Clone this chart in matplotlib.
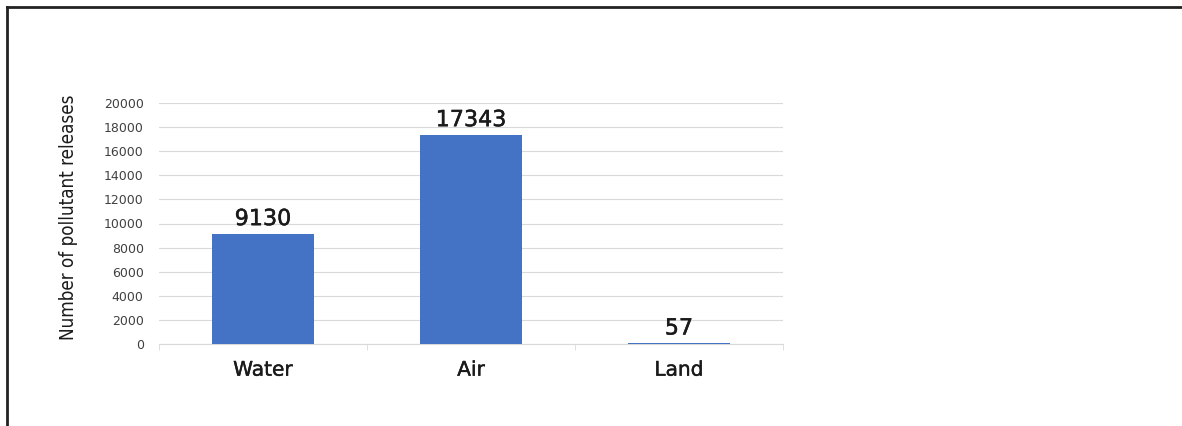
import matplotlib
matplotlib.use("Agg")
import matplotlib.pyplot as plt
from matplotlib.lines import Line2D
import matplotlib.patheffects as pe

categories = ["Water", "Air", "Land"]
values = [9130, 17343, 57]
yticks = [0, 2000, 4000, 6000, 8000, 10000, 12000, 14000, 16000, 18000, 20000]

fig = plt.figure(figsize=(11.82, 4.26), dpi=100)
ax = fig.add_axes([159/1182, 1-344/426, (783-159)/1182, (344-103)/426])

x = list(range(len(categories)))
ax.bar(x, values, width=0.49, color="#4472C4", zorder=3)
ax.set_xlim(-0.5, len(categories) - 0.5)
ax.set_ylim(0, 20000)
ax.set_yticks(yticks)
ax.set_yticklabels([str(v) for v in yticks], fontsize=9, color="#404040", family="DejaVu Sans")
ax.tick_params(axis="y", length=0, pad=11)
ax.grid(axis="y", color="#d9d9d9", lw=0.8, zorder=0)
ax.set_xticks(x)
ax.set_xticklabels(categories, fontsize=14.5, family="DejaVu Sans", color="#1a1a1a")
for t in ax.get_xticklabels():
    t.set_path_effects([pe.withStroke(linewidth=0.3, foreground="#1a1a1a")])
ax.tick_params(axis="x", length=0, pad=12)
ax.set_xticks([-0.5, 0.5, 1.5, 2.5], minor=True)
ax.tick_params(axis="x", which="minor", length=4, color="#d9d9d9", direction="out")
for s in ["top", "right", "left"]:
    ax.spines[s].set_visible(False)
ax.spines["bottom"].set_color("#d9d9d9")
ax.spines["bottom"].set_linewidth(0.8)

for xi, v in zip(x, values):
    ax.annotate(str(v), (xi, v), xytext=(0, 3.5), textcoords="offset points",
                ha="center", va="bottom", fontsize=16, family="DejaVu Sans", color="#1a1a1a",
                path_effects=[pe.withStroke(linewidth=0.35, foreground="#1a1a1a")])

ax.set_ylabel("Number of pollutant releases", fontsize=13.5, family="DejaVu Sans",
              fontstretch="condensed", color="#1a1a1a")
ax.yaxis.set_label_coords((78-159)/624, (344-217.5)/241)

fig.add_artist(Line2D([6.5/1182, 1.0], [1-6.5/426, 1-6.5/426], color="#222222", lw=2, transform=fig.transFigure))
fig.add_artist(Line2D([6.5/1182, 6.5/1182], [0, 1-6.5/426], color="#222222", lw=2, transform=fig.transFigure))

fig.savefig("out.png", dpi=100, facecolor="white")
